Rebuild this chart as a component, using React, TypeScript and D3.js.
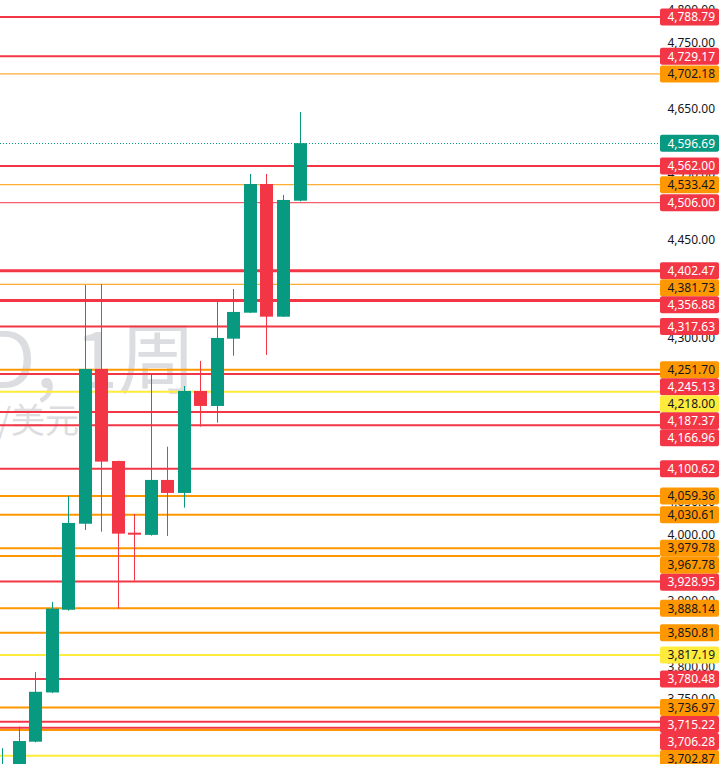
import React from "react";
import * as d3 from "d3";

// ---- data ----
const weekIndex = [0, 1, 2, 3, 4, 5, 6, 7, 8, 9, 10, 11, 12, 13, 14, 15, 16, 17, 18];
const opens = [3560, 3635, 3685, 3760, 3886, 4017, 4252.8, 4112.6, 4003.4, 4000, 4083.7, 4063.9, 4219.3, 4196.4, 4298.9, 4338.5, 4534.5, 4332.4, 4509.1];
const highs = [3675, 3708, 3791, 3898, 4059.3, 4380.7, 4382.2, 4113, 4031.9, 4244.7, 4134.4, 4226.8, 4265, 4354.8, 4374.6, 4549.8, 4549.8, 4517.8, 4644.2];
const lows = [3545, 3620, 3684, 3759, 3884.6, 4007.5, 4004.9, 3887.6, 3930.3, 3999, 3998.4, 4041.5, 4164.9, 4171, 4273, 4338, 4274.1, 4332, 4508];
const closes = [3635, 3686, 3761, 3887.6, 4018.2, 4252.8, 4111.6, 4001.9, 4000.3, 4083.7, 4063.9, 4219.3, 4196.4, 4300, 4339.6, 4534.5, 4332.4, 4510.2, 4596.69];

const lastPrice = 4596.69;
const redLevels = [4788.79, 4729.17, 4562.0, 4506.0, 4402.47, 4356.88, 4317.63, 4245.13, 4187.37, 4166.96, 4100.62, 3928.95, 3780.48, 3715.22, 3706.28];
const orangeLevels = [4702.18, 4533.42, 4381.73, 4251.7, 4059.36, 4030.61, 3979.78, 3967.78, 3888.14, 3850.81, 3736.97, 3702.87];
const yellowLevels = [4218.0, 3817.19];
const unlabeledYellowLevels = [3663.5];
const axisTicks = d3.range(3750, 4801, 50);

const watermarkSymbol = "XAUUSD, 1周";
const watermarkDesc = "黄金现货/美元";

// ---- styles ----
const W = 724;
const H = 764;
const RED = "#F23645";
const GREEN = "#089981";
const ORANGE = "#FF9800";
const YELLOW = "#FFEB3B";
const thinLevels = [4702.18, 4533.42, 4506.0, 4381.73];
const heavyLevels = [4402.47, 4356.88];
const FONT = "'Noto Sans', Roboto, sans-serif";

export default function App() {
  const y = d3.scaleLinear().domain([3651.0, 4814.8]).range([H, 0]);
  const x = d3.scaleLinear().domain([0, 18]).range([2, 299.5]);
  const bodyW = 13;
  const lineEnd = 660;
  const fmt = d3.format(",.2f");

  type Lvl = { p: number; color: string; text: string; label: boolean; dotted?: boolean };
  const levels: Lvl[] = [
    ...redLevels.map((p) => ({ p, color: RED, text: "#ffffff", label: true })),
    ...orangeLevels.map((p) => ({ p, color: ORANGE, text: "#131722", label: true })),
    ...yellowLevels.map((p) => ({ p, color: YELLOW, text: "#131722", label: true })),
    ...unlabeledYellowLevels.map((p) => ({ p, color: YELLOW, text: "#131722", label: false })),
  ];
  const widthOf = (p: number) => (thinLevels.includes(p) ? 1 : heavyLevels.includes(p) ? 3 : 2);

  const labels = [
    ...levels.filter((l) => l.label),
    { p: lastPrice, color: GREEN, text: "#ffffff", label: true, dotted: true },
  ]
    .map((l) => ({ ...l, ly: y(l.p) }))
    .sort((a, b) => a.ly - b.ly);
  const boxH = 17;
  for (let i = 1; i < labels.length; i++) {
    if (labels[i].ly < labels[i - 1].ly + boxH) labels[i].ly = labels[i - 1].ly + boxH;
  }
  // tick labels fully hidden under a price label box are not drawn
  const visibleTicks = axisTicks.filter(
    (t) => !labels.some((l) => Math.abs(y(t) - l.ly) <= 4)
  );

  return (
    <svg
      width={W}
      height={H}
      style={{ position: "absolute", left: 0, top: 0, display: "block", background: "#ffffff" }}
    >
      {/* watermark */}
      <g fill="#dcdde0" fontFamily="'Noto Sans CJK SC', sans-serif" textAnchor="end">
        <text x={196} y={388} fontSize={78}>
          {watermarkSymbol}
        </text>
        <text x={79} y={433} fontSize={34}>
          {watermarkDesc}
        </text>
      </g>

      {/* level lines */}
      {levels.map((l, i) => (
        <line
          key={"lv" + i}
          x1={0}
          x2={lineEnd}
          y1={y(l.p)}
          y2={y(l.p)}
          stroke={l.color}
          strokeWidth={widthOf(l.p)}
        />
      ))}
      <line
        x1={0}
        x2={lineEnd}
        y1={Math.round(y(lastPrice)) + 0.5}
        y2={Math.round(y(lastPrice)) + 0.5}
        stroke={GREEN}
        strokeWidth={1}
        strokeDasharray="1 2"
      />

      {/* candles */}
      {weekIndex.map((i) => {
        const o = opens[i];
        const c = closes[i];
        const up = c >= o;
        const col = up ? GREEN : RED;
        const cx = Math.round(x(i)) + 0.5;
        const top = y(Math.max(o, c));
        const bot = y(Math.min(o, c));
        return (
          <g key={"c" + i}>
            <line x1={cx} x2={cx} y1={y(highs[i])} y2={y(lows[i])} stroke={col} strokeWidth={1} />
            <rect x={cx - bodyW / 2} y={top} width={bodyW} height={Math.max(1.5, bot - top)} fill={col} />
          </g>
        );
      })}

      {/* axis tick labels */}
      <g fontFamily={FONT} fontSize={12} fill="#131722" textAnchor="end">
        {visibleTicks.map((t) => (
          <text key={"t" + t} x={715} y={y(t)} dy="0.36em">
            {fmt(t)}
          </text>
        ))}
      </g>

      {/* price labels */}
      <g fontFamily={FONT} fontSize={12} textAnchor="end">
        {labels.map((l, i) => (
          <g key={"lb" + i}>
            <rect x={660} y={l.ly - boxH / 2} width={59} height={boxH} rx={2} fill={l.color} />
            <text x={715} y={l.ly} dy="0.36em" fill={l.text}>
              {fmt(l.p)}
            </text>
          </g>
        ))}
      </g>
    </svg>
  );
}
